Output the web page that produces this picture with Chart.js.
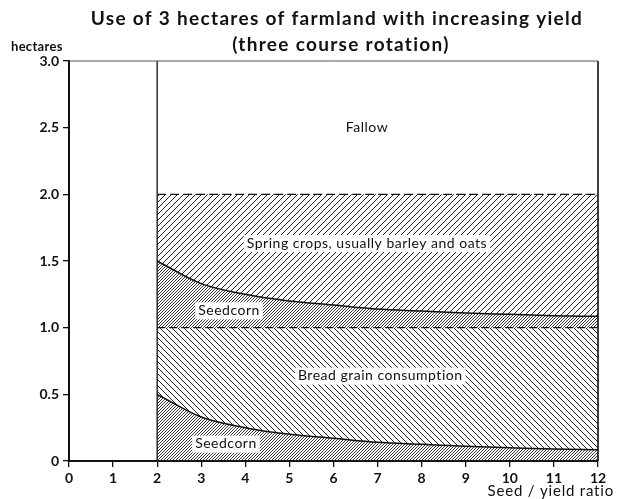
<!DOCTYPE html>
<html><head><meta charset="utf-8">
<script src="https://cdn.jsdelivr.net/npm/chart.js@4/dist/chart.umd.min.js"></script>
<style>html,body{margin:0;padding:0;background:#fff}#wrap{width:618px;height:499px;position:relative}</style>
</head><body><div id="wrap"><canvas id="c"></canvas></div>
<script>
const seedYieldRatio = [2, 3, 4, 5, 6, 7, 8, 9, 10, 11, 12];
const seedcornLower = [0.50, 0.33, 0.25, 0.20, 0.17, 0.14, 0.125, 0.11, 0.10, 0.09, 0.085];
const breadGrain    = [0.50, 0.67, 0.75, 0.80, 0.83, 0.86, 0.875, 0.89, 0.90, 0.91, 0.915];
const seedcornUpper = [0.50, 0.33, 0.25, 0.20, 0.17, 0.14, 0.125, 0.11, 0.10, 0.09, 0.085];
const springCrops   = [0.50, 0.67, 0.75, 0.80, 0.83, 0.86, 0.875, 0.89, 0.90, 0.91, 0.915];
const fallow        = [1.0, 1.0, 1.0, 1.0, 1.0, 1.0, 1.0, 1.0, 1.0, 1.0, 1.0];
const xTickLabels = ['0','1','2','3','4','5','6','7','8','9','10','11','12'];
const yTickLabels = ['0','0.5','1.0','1.5','2.0','2.5','3.0'];
const areaLabels = [
  {text:'Fallow', x:6.76, y:2.5},
  {text:'Spring crops, usually barley and oats', x:6.76, y:1.635},
  {text:'Seedcorn', x:3.63, y:1.13},
  {text:'Bread grain consumption', x:7.06, y:0.64},
  {text:'Seedcorn', x:3.56, y:0.13}
];

const FONT = 'Lato, "Open Sans", sans-serif';

function hatch(n, dir, lw, color){
  const c = document.createElement('canvas');
  c.width = n; c.height = n;
  const g = c.getContext('2d');
  g.strokeStyle = color || '#222';
  g.lineWidth = lw;
  g.beginPath();
  if (dir === '/') {
    g.moveTo(0, n); g.lineTo(n, 0);
    g.moveTo(-n/2, n/2); g.lineTo(n/2, -n/2);
    g.moveTo(n/2, n*1.5); g.lineTo(n*1.5, n/2);
  } else {
    g.moveTo(0, 0); g.lineTo(n, n);
    g.moveTo(-n/2, n/2); g.lineTo(n/2, n*1.5);
    g.moveTo(n/2, -n/2); g.lineTo(n*1.5, n/2);
  }
  g.stroke();
  return document.getElementById('c').getContext('2d').createPattern(c, 'repeat');
}

const pts = arr => seedYieldRatio.map((x, i) => ({x, y: arr[i]}));

const decor = {
  id: 'decor',
  beforeDraw(chart){
    const ctx = chart.ctx;
    ctx.save(); ctx.fillStyle = '#fff'; ctx.fillRect(0,0,chart.width,chart.height); ctx.restore();
  },
  afterDatasetsDraw(chart){
    const {ctx, scales:{x, y}} = chart;
    ctx.save();
    ctx.strokeStyle = '#111';
    ctx.lineWidth = 1.3;
    ctx.beginPath();
    ctx.moveTo(x.getPixelForValue(2), y.getPixelForValue(0));
    ctx.lineTo(x.getPixelForValue(2), y.getPixelForValue(3));
    ctx.stroke();
    ctx.lineWidth = 1.6;
    ctx.beginPath();
    ctx.moveTo(x.getPixelForValue(12), y.getPixelForValue(0));
    ctx.lineTo(x.getPixelForValue(12), y.getPixelForValue(3));
    ctx.stroke();
    ctx.lineWidth = 1;
    ctx.strokeStyle = '#555';
    ctx.beginPath();
    ctx.moveTo(x.getPixelForValue(0), y.getPixelForValue(3));
    ctx.lineTo(x.getPixelForValue(12), y.getPixelForValue(3));
    ctx.stroke();
    ctx.font = '14px ' + FONT;
    ctx.letterSpacing = '0.5px';
    ctx.textAlign = 'center';
    ctx.textBaseline = 'middle';
    areaLabels.forEach(l => {
      const px = x.getPixelForValue(l.x), py = y.getPixelForValue(l.y);
      const w = ctx.measureText(l.text).width;
      ctx.fillStyle = '#fff';
      ctx.fillRect(px - w/2 - 3, py - 8, w + 6, 17);
      ctx.fillStyle = '#111';
      ctx.fillText(l.text, px, py);
    });
    ctx.restore();
  },
  afterDraw(chart){
    const ctx = chart.ctx;
    ctx.save();
    ctx.fillStyle = '#111';
    ctx.textAlign = 'center';
    ctx.textBaseline = 'middle';
    ctx.font = 'bold 19px ' + FONT;
    ctx.letterSpacing = '1.3px';
    ctx.fillText('Use of 3 hectares of farmland with increasing yield', 337, 19);
    ctx.fillText('(three course rotation)', 341, 45);
    ctx.font = 'bold 13px ' + FONT;
    ctx.letterSpacing = '0.3px';
    ctx.textAlign = 'left';
    ctx.fillText('hectares', 11, 47);
    ctx.font = '15px ' + FONT;
    ctx.letterSpacing = '0.8px';
    ctx.textAlign = 'right';
    ctx.fillText('Seed / yield ratio', 614, 491);
    ctx.restore();
  }
};

const mk = (label, data, fill, bg, border) => Object.assign({
  label, data: pts(data), fill, backgroundColor: bg,
  pointRadius: 0, cubicInterpolationMode: 'monotone', borderColor: '#111', borderWidth: 1.5
}, border);

new Chart(document.getElementById('c'), {
  type: 'line',
  data: {
    datasets: [
      mk('Seedcorn', seedcornLower, 'origin', hatch(3, '/', 0.9), {borderWidth: 1.5}),
      mk('Bread grain consumption', breadGrain, '-1', hatch(6, '\\', 1.0), {borderWidth: 1.3, borderDash: [8, 4]}),
      mk('Seedcorn', seedcornUpper, '-1', hatch(3, '/', 0.9), {borderWidth: 1.5}),
      mk('Spring crops, usually barley and oats', springCrops, '-1', hatch(6, '/', 1.0), {borderWidth: 1.3, borderDash: [9, 4]}),
      mk('Fallow', fallow, '-1', '#fff', {borderWidth: 0})
    ]
  },
  options: {
    responsive: true, maintainAspectRatio: false, animation: false,
    layout: {padding: {top: 61, right: 20, left: 0, bottom: 0}},
    plugins: {legend: {display: false}, tooltip: {enabled: false}, title: {display: false}},
    scales: {
      x: {
        type: 'linear', min: 0, max: 12,
        ticks: {stepSize: 1, callback: v => xTickLabels[v], color: '#111', font: {family: FONT, size: 14, weight: 'bold'}, padding: 3, maxRotation: 0},
        grid: {drawOnChartArea: false, drawTicks: true, tickLength: 6, color: '#111', lineWidth: 1.3},
        border: {color: '#111', width: 2},
        afterFit: s => { s.height = 38; }
      },
      y: {
        stacked: true, min: 0, max: 3,
        ticks: {stepSize: 0.5, callback: v => yTickLabels[Math.round(v * 2)], color: '#111', font: {family: FONT, size: 14, weight: 'bold'}, padding: 4},
        grid: {drawOnChartArea: false, drawTicks: true, tickLength: 6, color: '#111', lineWidth: 1.3},
        border: {color: '#111', width: 2},
        afterFit: s => { s.width = 69; }
      }
    }
  },
  plugins: [decor]
});
</script>
</body></html>
